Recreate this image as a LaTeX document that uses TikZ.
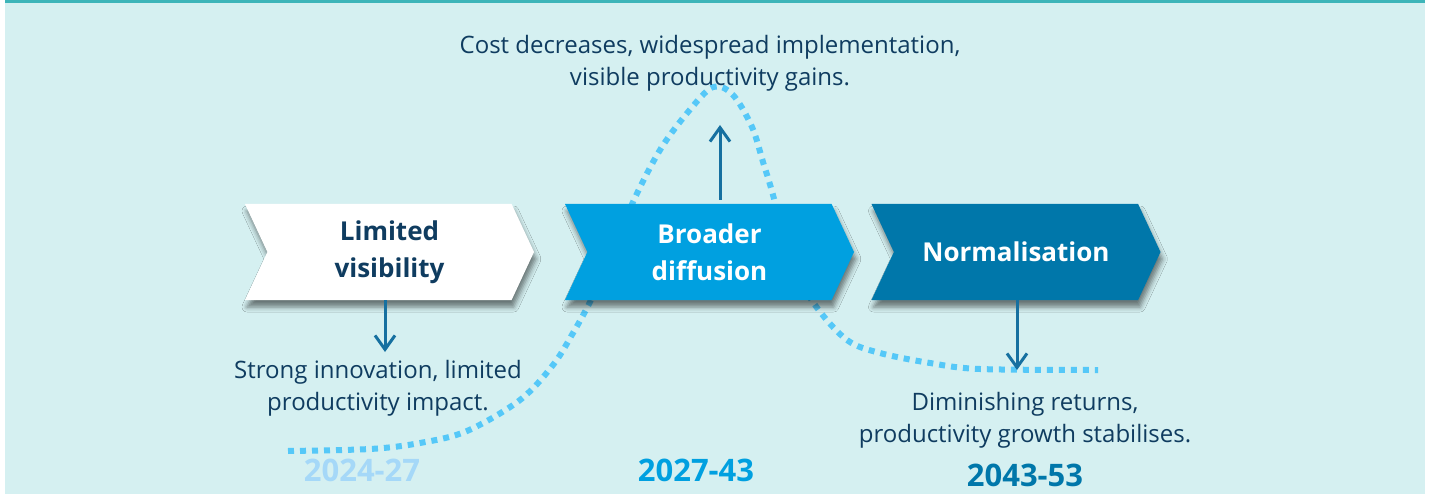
\documentclass[tikz,border=0pt]{standalone}
\usepackage{fontspec}
\setmainfont{Open Sans}
\usetikzlibrary{shapes.symbols, arrows.meta, shadows, shadows.blur}

\definecolor{bgcyan}{HTML}{D5F0F1}
\definecolor{topteal}{HTML}{3DB5B9}
\definecolor{navy}{HTML}{0F3C60}
\definecolor{midblue}{HTML}{00A0E0}
\definecolor{deepblue}{HTML}{0077AA}
\definecolor{dotblue}{HTML}{55C8F8}
\definecolor{paleblue}{HTML}{A5D8F8}
\definecolor{arrowblue}{HTML}{1670A0}

\tikzset{
	phase/.style={signal, signal to=east, signal from=west, signal pointer angle=130,
		minimum width=289pt, minimum height=96pt, inner sep=0pt, align=center,
		font=\bfseries\fontsize{26}{37}\selectfont,
		blur shadow={shadow xshift=2pt, shadow yshift=-7pt, shadow blur radius=5pt, shadow opacity=50}},
	note/.style={align=center, text=navy, font=\fontsize{24}{32}\selectfont},
	yearlbl/.style={font=\bfseries\fontsize{31}{36}\selectfont},
	marker/.style={arrowblue, line width=3pt, -{Straight Barb[length=14pt, width=20pt, line width=3pt]}},
	dotline/.style={dotblue, line width=6pt, dash pattern=on 6pt off 6pt}
}

\begin{document}
\begin{tikzpicture}[x=1pt, y=-1pt]
	% canvas
	\fill[white] (0,0) rectangle (1429,494);
	\fill[bgcyan] (5,0) rectangle (1425,494);
	\fill[topteal] (5,0) rectangle (1425,3);
	\useasboundingbox (0,0) rectangle (1429,494);

	% productivity curve, behind the phases
	\draw[dotline] plot[smooth, tension=0.55] coordinates {
		(288,451) (370,449) (420,443) (467,431) (520,400) (553,365) (573,333)
		(590,302) (612,255) (633,202) (660,150) (688,112) (713,87) (733,95)
		(752,127) (763,162) (773,195) (790,260) (815,305) (847,340) (880,353)
		(930,363) (980,369) (1098,370)};

	% phases
	\node[phase, fill=white, text=navy] (lim) at (389.5,252) {Limited\\visibility};
	\node[phase, fill=midblue, text=white] (bro) at (709.5,252) {Broader\\diffusion};
	\node[phase, fill=deepblue, text=white] (nor) at (1016,252) {Normalisation};

	% descriptions
	\node[note] (costtxt) at (710,63) {Cost decreases, widespread implementation,\\visible productivity gains.};
	\node[note] (innotxt) at (378,388) {Strong innovation, limited\\productivity impact.};
	\node[note] (dimtxt) at (1025,420) {Diminishing returns,\\productivity growth stabilises.};

	% periods
	\node[yearlbl, text=paleblue] (y1) at (362,470) {2024-27};
	\node[yearlbl, text=midblue] (y2) at (696,470) {2027-43};
	\node[yearlbl, text=deepblue] (y3) at (1025,475) {2043-53};

	% markers
	\coordinate (limend) at (385,352);
	\coordinate (brotop) at (720,125);
	\coordinate (norend) at (1017,370);
	\draw[marker] (lim.south -| limend) -- (limend);
	\draw[marker] ([yshift=4pt]bro.north -| brotop) -- (brotop);
	\draw[marker] (nor.south -| norend) -- (norend);
\end{tikzpicture}
\end{document}
